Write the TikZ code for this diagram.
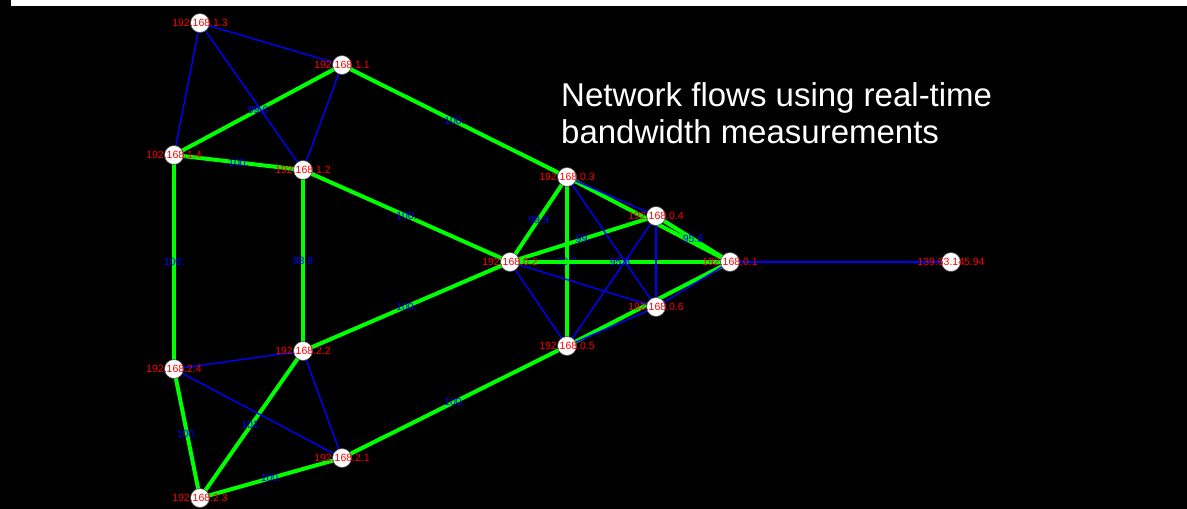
\documentclass[tikz,border=0pt]{standalone}
\usepackage{fontspec}
\setmainfont{Liberation Sans}
\begin{document}
\begin{tikzpicture}[x=1pt,y=-1pt,
  host/.style={circle,fill=white,draw=black!70,line width=0.6pt,minimum size=19pt,inner sep=0pt},
  hlabel/.style={text=red,font=\fontsize{10.5}{10.5}\selectfont,inner sep=0pt},
  link/.style={draw=blue,line width=1.4pt},
  flow/.style={draw=green,line width=4pt},
  flab/.style={text=blue,font=\fontsize{10.5}{10.5}\selectfont,inner sep=0pt,midway},
  title/.style={text=white,font=\fontsize{33}{37}\selectfont,inner sep=0pt,anchor=base west}]
\fill[black] (0,0) rectangle (1187,509);
\fill[white] (11,0) rectangle (1187,6);
\useasboundingbox (0,0) rectangle (1187,509);
% coordinates
\coordinate (p13) at (200,23);
\coordinate (p11) at (342,65);
\coordinate (p14) at (174,155);
\coordinate (p12) at (303,170);
\coordinate (p03) at (567,177);
\coordinate (p04) at (656,216);
\coordinate (p02) at (510,262);
\coordinate (p01) at (730,262);
\coordinate (p06) at (656,307);
\coordinate (p05) at (567,346);
\coordinate (p22) at (303,351);
\coordinate (p24) at (174,369);
\coordinate (p21) at (342,458);
\coordinate (p23) at (200,498);
\coordinate (pext) at (951,262);
% green flows
\path[flow] (p11) -- (p14) node[flab]{99.6};
\path[flow] (p14) -- (p12) node[flab]{100.};
\path[flow] (p11) -- (p03) node[flab]{100.};
\path[flow] (p12) -- (p02) node[flab]{100.};
\path[flow] (p14) -- (p24) node[flab]{100.};
\path[flow] (p12) -- (p22) node[flab]{98.9};
\path[flow] (p22) -- (p02) node[flab]{100.};
\path[flow] (p24) -- (p23) node[flab]{100.};
\path[flow] (p22) -- (p23) node[flab]{101.};
\path[flow] (p23) -- (p21) node[flab]{100.};
\path[flow] (p21) -- (p05) node[flab]{100.};
\path[flow] (p03) -- (p02) node[flab]{99.9};
\path[flow] (p03) -- (p05) node[flab]{99.9};
\path[flow] (p02) -- (p04) node[flab]{99.};
\path[flow] (p02) -- (p01) node[flab]{95.8};
\path[flow] (p03) -- (p01);
\path[flow] (p04) -- (p01) node[flab]{95.8};
\path[flow] (p05) -- (p01);
% blue links
\path[link] (p13) -- (p11);
\path[link] (p13) -- (p14);
\path[link] (p13) -- (p12);
\path[link] (p11) -- (p12);
\path[link] (p24) -- (p22);
\path[link] (p24) -- (p21);
\path[link] (p22) -- (p21);
\path[link] (p03) -- (p04);
\path[link] (p03) -- (p06);
\path[link] (p02) -- (p05);
\path[link] (p02) -- (p06);
\path[link] (p04) -- (p05);
\path[link] (p04) -- (p06);
\path[link] (p06) -- (p01);
\path[link] (p05) -- (p06);
\path[link] (p01) -- (pext);
% hosts
\foreach \n in {13,11,14,12,03,04,02,01,06,05,22,24,21,23,ext}
  \node[host] (h\n) at (p\n) {};
\node[hlabel] (l13) at (h13) {192.168.1.3};
\node[hlabel] (l11) at (h11) {192.168.1.1};
\node[hlabel] (l14) at (h14) {192.168.1.4};
\node[hlabel] (l12) at (h12) {192.168.1.2};
\node[hlabel] (l03) at (h03) {192.168.0.3};
\node[hlabel] (l04) at (h04) {192.168.0.4};
\node[hlabel] (l02) at (h02) {192.168.0.2};
\node[hlabel] (l01) at (h01) {192.168.0.1};
\node[hlabel] (l06) at (h06) {192.168.0.6};
\node[hlabel] (l05) at (h05) {192.168.0.5};
\node[hlabel] (l22) at (h22) {192.168.2.2};
\node[hlabel] (l24) at (h24) {192.168.2.4};
\node[hlabel] (l21) at (h21) {192.168.2.1};
\node[hlabel] (l23) at (h23) {192.168.2.3};
\node[hlabel] (lext) at (hext) {139.63.145.94};
% title
\node[title] (t1) at (561,106) {Network flows using real-time};
\node[title] (t2) at (561,143) {bandwidth measurements};
\end{tikzpicture}
\end{document}
